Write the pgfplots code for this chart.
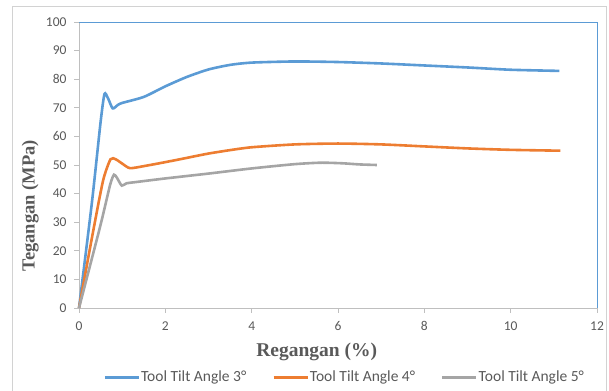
\documentclass[border=0pt]{standalone}
\usepackage{pgfplots}
\pgfplotsset{compat=1.18}
\usepackage{fontspec}
\setmainfont{Liberation Serif}
\newfontfamily\carlito{Carlito}
\definecolor{cblue}{HTML}{5B9BD5}
\definecolor{corange}{HTML}{ED7D31}
\definecolor{cgrey}{HTML}{A5A5A5}
\definecolor{ticktext}{HTML}{595959}
\definecolor{axgrey}{HTML}{BFBFBF}
\begin{document}
\begin{tikzpicture}[x=1pt,y=1pt]
\useasboundingbox (0,0) rectangle (609,390);
\draw[color=axgrey!70, line width=1pt] (12,-5) -- (12,383) -- (606,383) -- (606,-5);
\begin{axis}[
  at={(79pt,82pt)}, anchor=south west,
  scale only axis, width=518pt, height=286pt,
  xmin=0, xmax=12, ymin=0, ymax=100,
  xtick={0,2,...,12}, ytick={0,10,...,100},
  axis x line*=bottom, axis y line*=left,
  axis line style={draw=axgrey, line width=0.9pt},
  x axis line style={-}, y axis line style={-},
  tick style={draw=axgrey, line width=0.9pt},
  tick align=outside, major tick length=5pt,
  /pgf/number format/assume math mode=true,
  tick label style={font=\carlito\fontsize{13.5}{14}\selectfont, text=ticktext},
  xticklabel style={yshift=-5pt},
  yticklabel style={xshift=-4pt},
  xlabel={\bfseries Regangan (\%)},
  ylabel={\bfseries Tegangan (MPa)},
  xlabel style={font=\fontsize{19.5}{20}\selectfont, text=ticktext, at={(axis description cs:0.459,-0.154)}, anchor=center},
  ylabel style={font=\fontsize{18.5}{19}\selectfont, text=ticktext, at={(axis description cs:-0.094,0.357)}, anchor=center, rotate=0},
  legend style={at={(axis description cs:0.512,-0.242)}, anchor=center, draw=none, fill=none,
    legend columns=3, font=\carlito\fontsize{15.5}{16}\selectfont, text=ticktext,
    /tikz/every even column/.append style={column sep=25pt},
    nodes={inner sep=1pt}},
  legend image code/.code={\draw[#1, line width=2.6pt] (0pt,0pt) -- (34pt,0pt);},
  every axis plot/.append style={line width=2.6pt, smooth, tension=0.4},
  clip=false,
]
\addplot[color=cblue] coordinates {
(0,0) (0.3,37) (0.5,65) (0.59,74.8) (0.67,73.4) (0.78,69.8) (0.9,71) (1.0,71.7)
(1.5,73.8) (2,77.5) (2.5,80.8) (3,83.4) (3.5,85) (4,85.8) (5,86.2) (6,86)
(7,85.5) (8,84.8) (9,84.1) (10,83.3) (11.13,82.9)};
\addlegendentry{Tool Tilt Angle 3°}
\addplot[color=corange] coordinates {
(0,0) (0.33,27) (0.56,44.7) (0.73,52) (0.85,52) (1.0,50.5) (1.18,48.9) (1.5,49.6)
(2,51) (2.5,52.5) (3,54) (3.5,55.2) (4,56.2) (5,57.2) (6,57.5) (7,57.2)
(8,56.5) (9,55.8) (10,55.3) (11.15,55)};
\addlegendentry{Tool Tilt Angle 4°}
\addplot[color=cgrey] coordinates {
(0,0) (0.49,28.5) (0.72,43) (0.81,46.6) (0.88,45.5) (0.99,42.8) (1.1,43.6) (1.3,44)
(2,45.3) (3,47) (4,48.8) (5,50.3) (5.6,50.8) (6.1,50.6) (6.5,50.2) (6.9,50)};
\addlegendentry{Tool Tilt Angle 5°}
\draw[cblue, line width=0.9pt] (rel axis cs:0,1) -- (rel axis cs:1,1) -- (rel axis cs:1,0);
\end{axis}
\end{tikzpicture}
\end{document}
